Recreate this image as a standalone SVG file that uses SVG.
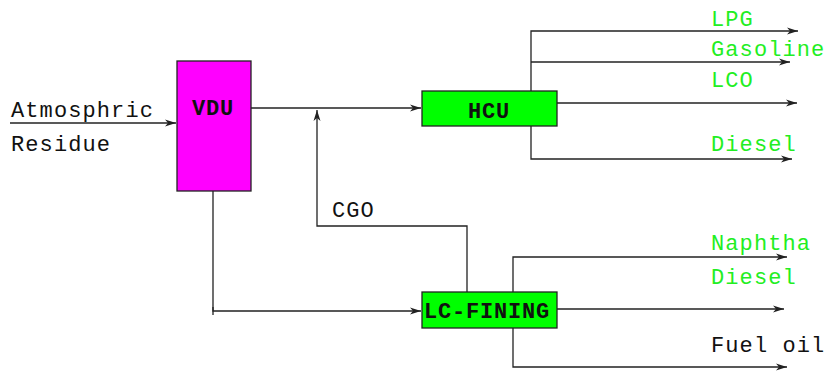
<svg xmlns="http://www.w3.org/2000/svg" width="825" height="374" viewBox="0 0 825 374">
<style>
.ln{stroke:#222;stroke-width:1.3;fill:none}
.lbl{font-family:"Liberation Mono","DejaVu Sans Mono",monospace;font-size:22px;letter-spacing:1.1px}
.g{fill:#22ee22}
.k{fill:#111}
.box{font-family:"Liberation Mono","DejaVu Sans Mono",monospace;font-size:22px;font-weight:bold;fill:#111;letter-spacing:0.8px}
</style>
<defs>
<marker id="ar" markerWidth="12" markerHeight="8" refX="11" refY="4" orient="auto" markerUnits="userSpaceOnUse">
<path d="M0,0.5 L11,4 L0,7.5 L3,4 Z" fill="#222"/>
</marker>
</defs>
<rect width="825" height="374" fill="#fff"/>
<g id="connectors">
<line class="ln" x1="10" y1="123" x2="176" y2="123" marker-end="url(#ar)"/>
<line class="ln" x1="251" y1="108" x2="421" y2="108" marker-end="url(#ar)"/>
<polyline class="ln" points="467,292 467,226 317,226 317,110" marker-end="url(#ar)"/>
<polyline class="ln" points="213,191 213,311 421,311" marker-end="url(#ar)"/>
<line class="ln" x1="213" y1="307" x2="213" y2="315"/>
<polyline class="ln" points="531,91 531,31 798,31" marker-end="url(#ar)"/>
<line class="ln" x1="531" y1="62" x2="790" y2="62" marker-end="url(#ar)"/>
<line class="ln" x1="557" y1="103" x2="797" y2="103" marker-end="url(#ar)"/>
<polyline class="ln" points="531,126 531,159 792,159" marker-end="url(#ar)"/>
<polyline class="ln" points="513,292 513,257 787,257" marker-end="url(#ar)"/>
<line class="ln" x1="557" y1="309" x2="784" y2="309" marker-end="url(#ar)"/>
<polyline class="ln" points="513,328 513,367 787,367" marker-end="url(#ar)"/>
</g>
<g id="feed">
<text class="lbl k" x="11" y="117">Atmosphric</text>
<text class="lbl k" x="11" y="151">Residue</text>
</g>
<g id="vdu">
<rect x="177" y="61" width="74" height="130" fill="#ff00ff" stroke="#222" stroke-width="1.3"/>
<text class="box" x="192" y="115">VDU</text>
</g>
<g id="hcu">
<rect x="422" y="91" width="135" height="35" fill="#00ff00" stroke="#222" stroke-width="1.3"/>
<text class="box" x="468" y="118">HCU</text>
</g>
<g id="lcfining">
<rect x="422" y="292" width="135" height="36" fill="#00ff00" stroke="#222" stroke-width="1.3"/>
<text class="box" x="424" y="318" letter-spacing="1">LC-FINING</text>
</g>
<g id="cgo">
<text class="lbl k" x="332" y="217">CGO</text>
</g>
<g id="hcu-products">
<text class="lbl g" x="711" y="26">LPG</text>
<text class="lbl g" x="711" y="56">Gasoline</text>
<text class="lbl g" x="711" y="87">LCO</text>
<text class="lbl g" x="711" y="151">Diesel</text>
</g>
<g id="lc-products">
<text class="lbl g" x="711" y="250">Naphtha</text>
<text class="lbl g" x="711" y="284">Diesel</text>
<text class="lbl k" x="711" y="352">Fuel oil</text>
</g>
</svg>
